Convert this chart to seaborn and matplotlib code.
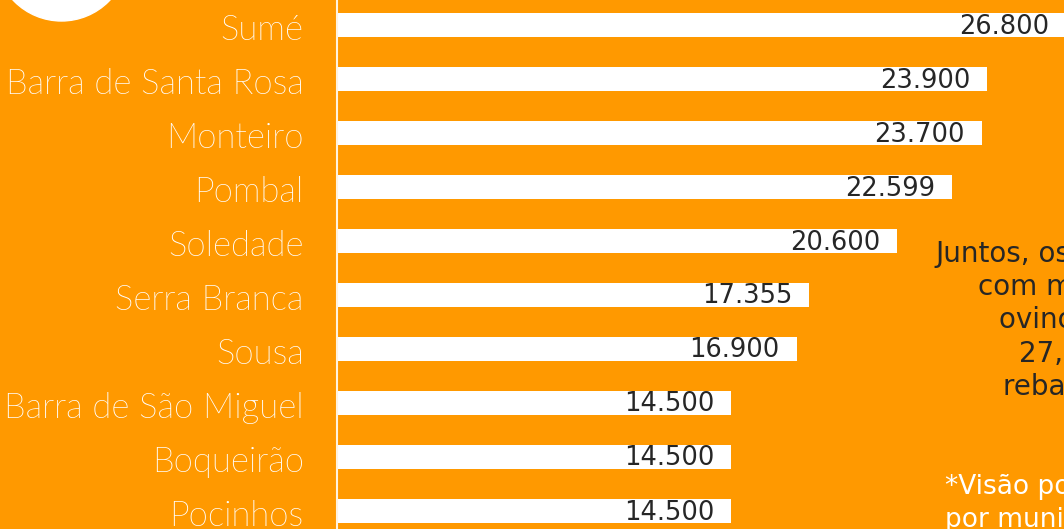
import matplotlib
matplotlib.use("Agg")
import matplotlib.pyplot as plt
import matplotlib.transforms as mtransforms
import seaborn as sns
from matplotlib.patches import Ellipse

# data
cities = ["Sumé", "Barra de Santa Rosa", "Monteiro", "Pombal", "Soledade",
          "Serra Branca", "Sousa", "Barra de São Miguel", "Boqueirão", "Pocinhos"]
rebanho = [26800, 23900, 23700, 22599, 20600, 17355, 16900, 14500, 14500, 14500]
value_labels = ["26.800", "23.900", "23.700", "22.599", "20.600",
                "17.355", "16.900", "14.500", "14.500", "14.500"]

note_lines = ["Juntos, os 10 municípios", "com maior rebanho de", "ovinos somam",
              "27,4% do total do", "rebanho estadual"]
footnote_lines = ["*Visão por mesorregião e", "por município"]

orange = "#FF9900"
dark = "#262626"

W, H = 1064, 529
fig = plt.figure(figsize=(W / 100, H / 100), dpi=100, facecolor=orange)
ax = fig.add_axes([337 / W, 0, (W - 337) / W, 1])
ax.set_facecolor(orange)

sns.barplot(x=rebanho, y=cities, color="white", saturation=1, width=0.43,
            ax=ax, edgecolor="none")

ax.set_xlim(0, (W - 337) / 0.0272)
ax.set_ylim((H - 25) / 54, -25 / 54)

for bar, lab in zip(ax.patches, value_labels):
    ax.annotate(lab, (bar.get_width(), bar.get_y() + bar.get_height() / 2),
                xytext=(-17, -1.5), textcoords="offset pixels",
                ha="right", va="center", fontsize=18.5, color=dark,
                family="DejaVu Sans", annotation_clip=False)

ax.set_xlabel("")
ax.set_ylabel("")
ax.set_xticks([])
ax.tick_params(axis="y", length=0, pad=24)
shift = mtransforms.ScaledTranslation(0, -2 / 100, fig.dpi_scale_trans)
for t in ax.get_yticklabels():
    t.set_fontfamily("Lato")
    t.set_fontweight(275)
    t.set_fontsize(25)
    t.set_color("white")
    t.set_va("center_baseline")
    t.set_transform(t.get_transform() + shift)

for side in ["top", "right", "bottom"]:
    ax.spines[side].set_visible(False)
ax.spines["left"].set_color("#FFF3E0")
ax.spines["left"].set_linewidth(1.5)

# white circle at top-left corner
fig.add_artist(Ellipse((61.5 / W, 1 + 45.5 / H), 133 / W, 133 / H,
                       transform=fig.transFigure, color="white", zorder=5))

# side note, cut by the right edge
note_x = [935, 978, 999, 1019, 1003]
note_y = [262, 295, 328, 362, 395]
for txt, x, y in zip(note_lines, note_x, note_y):
    fig.text(x / W, 1 - y / H, txt, ha="left", va="baseline", fontsize=20,
             color=dark, family="DejaVu Sans")
for txt, y in zip(footnote_lines, [494, 527]):
    fig.text(945 / W, 1 - y / H, txt, ha="left", va="baseline", fontsize=19,
             color="white", family="DejaVu Sans")

fig.savefig("out.png", dpi=100, facecolor=orange)
